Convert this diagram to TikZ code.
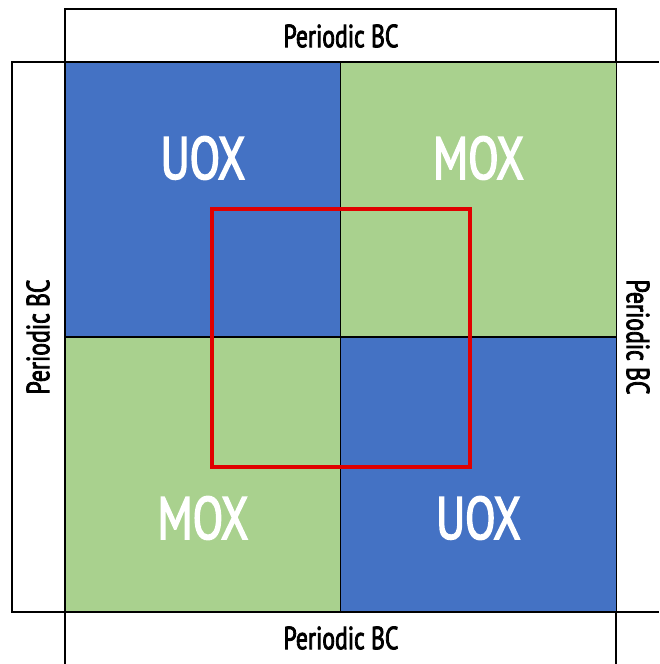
\documentclass[tikz,border=0pt]{standalone}
\usepackage{fontspec}
\usepackage{tikz}
\usetikzlibrary{positioning}
\newfontfamily\cellfont[FakeStretch=0.74,FakeBold=2.5]{PT Sans}
\definecolor{uoxblue}{HTML}{4472C4}
\definecolor{moxgreen}{HTML}{A9D18E}
\definecolor{cellred}{HTML}{E00000}
\tikzset {
cell/.style={shape=rectangle,draw=black,line width=1.4pt,minimum width=276pt,minimum height=275pt,inner sep=0pt,outer sep=0pt},
uox/.style={cell,fill=uoxblue},
mox/.style={cell,fill=moxgreen},
fuel/.style={text=white,font=\cellfont\fontsize{60}{60}\selectfont},
bc/.style={text=black,font=\cellfont\fontsize{32}{32}\selectfont}
}

\begin{document}
\begin{tikzpicture}
[x=1pt,y=-1pt]
\useasboundingbox (0,0) rectangle (659,664);
% boundary strips
\draw[line width=1.4pt] (65,9) rectangle (616,62);
\draw[line width=1.4pt] (12,62) rectangle (65,612);
\draw[line width=1.4pt] (616,9) -- (616,664);
\draw[line width=1.4pt] (65,612) -- (65,664);
\draw[line width=1.4pt] (616,62) -- (659,62);
\draw[line width=1.4pt] (65,612) -- (659,612);
% assembly cells
\node[uox] (uoxA) at (203,199.5) {};
\node[mox] (moxA) at (478.5,199.5) {};
\node[mox] (moxB) at (203,474.5) {};
\node[uox] (uoxB) at (478.5,474.5) {};
\node[fuel] at ([yshift=-96pt]uoxA.north) {UOX};
\node[fuel] at ([yshift=-96pt]moxA.north) {MOX};
\node[fuel] at ([yshift=94pt]moxB.south) {MOX};
\node[fuel] at ([yshift=94pt]uoxB.south) {UOX};
% boundary conditions
\node[bc] (bcN) at (341,36) {Periodic BC};
\node[bc] (bcS) at (341,638) {Periodic BC};
\node[bc,rotate=90] (bcW) at (38,337) {Periodic BC};
\node[bc,rotate=-90] (bcE) at (638,337) {Periodic BC};
% computational cell
\draw[cellred,line width=4.5pt] (212,209) rectangle (470,467);
\end{tikzpicture}
\end{document}
